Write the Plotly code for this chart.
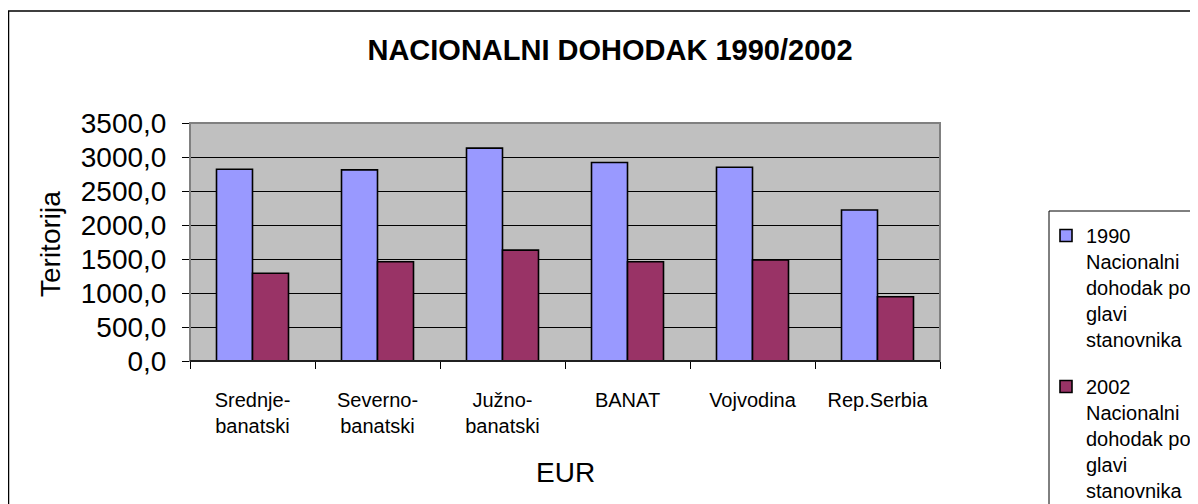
import plotly.graph_objects as go

categories = ["Srednje-<br>banatski", "Severno-<br>banatski", "Južno-<br>banatski",
              "BANAT", "Vojvodina", "Rep.Serbia"]
values_1990 = [2820, 2810, 3130, 2920, 2850, 2220]
values_2002 = [1290, 1460, 1630, 1460, 1485, 945]
series_names = ["1990<br>Nacionalni<br>dohodak po<br>glavi<br>stanovnika",
                "2002<br>Nacionalni<br>dohodak po<br>glavi<br>stanovnika"]
y_ticks = [0, 500, 1000, 1500, 2000, 2500, 3000, 3500]

# page body has an 8px margin: figure is sized to fit the visible window
OFF = 8
W, H = 1198 - OFF, 504 - OFF
FONT = "Liberation Sans, Arial, sans-serif"

def px_x(x):
    return (x - OFF) / W

def px_y(y):
    return (H - (y - OFF)) / H

fig = go.Figure()
fig.add_trace(go.Bar(x=categories, y=values_1990, name=series_names[0],
                     legendgroup="a",
                     marker=dict(color="#9999FF", line=dict(color="black", width=1.6))))
fig.add_trace(go.Bar(x=categories, y=values_2002, name=series_names[1],
                     legendgroup="b",
                     marker=dict(color="#993366", line=dict(color="black", width=1.6))))

fig.update_layout(
    width=W, height=H,
    margin=dict(l=0, r=0, t=0, b=0, autoexpand=False),
    paper_bgcolor="white",
    plot_bgcolor="#C0C0C0",
    separators=",.",
    font=dict(family=FONT, color="black"),
    barmode="group",
    bargap=0.424,
    bargroupgap=0,
    title=dict(text="<b>NACIONALNI DOHODAK 1990/2002</b>", x=px_x(610), y=px_y(50),
               xanchor="center", yanchor="middle", xref="paper", yref="paper",
               font=dict(size=29, family=FONT, color="black")),
    xaxis=dict(domain=[px_x(190), px_x(940)], type="category", tickson="boundaries",
               ticks="outside", ticklen=7, tickcolor="black", tickwidth=1,
               showgrid=False, showline=True, linecolor="black", linewidth=1,
               tickfont=dict(size=20, family=FONT, color="black"),
               ticklabelstandoff=21, automargin=False),
    yaxis=dict(domain=[px_y(361), px_y(123)], range=[0, 3500], tickvals=y_ticks,
               tickformat=".1f", ticks="outside", ticklen=7, tickcolor="black",
               showgrid=True, gridcolor="black", gridwidth=1, zeroline=False,
               showline=False, automargin=False,
               tickfont=dict(size=28, family=FONT, color="black"),
               ticklabelstandoff=10),
    legend=dict(x=px_x(1046), y=px_y(216), xanchor="left", yanchor="top",
                xref="paper", yref="paper", bgcolor="rgba(0,0,0,0)",
                font=dict(size=20, family=FONT, color="black"),
                traceorder="grouped", tracegroupgap=18, valign="top",
                borderwidth=0),
    shapes=[
        dict(type="rect", xref="paper", yref="paper", x0=px_x(8.5), y0=-0.05,
             x1=1.05, y1=px_y(11), line=dict(color="black", width=1.5), layer="below"),
        dict(type="rect", xref="paper", yref="paper", x0=px_x(1049), y0=-0.05,
             x1=1.05, y1=px_y(211), line=dict(color="black", width=1), layer="above"),
        dict(type="rect", xref="paper", yref="paper", x0=px_x(190), y0=px_y(361),
             x1=px_x(940), y1=px_y(123), line=dict(color="#808080", width=2), layer="above"),
        dict(type="line", xref="paper", yref="paper", x0=px_x(190), y0=px_y(361),
             x1=px_x(940), y1=px_y(361), line=dict(color="black", width=1.5), layer="above"),
    ],
    annotations=[
        dict(text="Teritorija", xref="paper", yref="paper", x=px_x(50), y=px_y(244),
             xanchor="center", yanchor="middle", textangle=-90, showarrow=False,
             font=dict(size=28, family=FONT, color="black")),
        dict(text="EUR", xref="paper", yref="paper", x=px_x(565), y=px_y(472),
             xanchor="center", yanchor="middle", showarrow=False,
             font=dict(size=28, family=FONT, color="black")),
    ],
)

fig.write_html("out.html")
